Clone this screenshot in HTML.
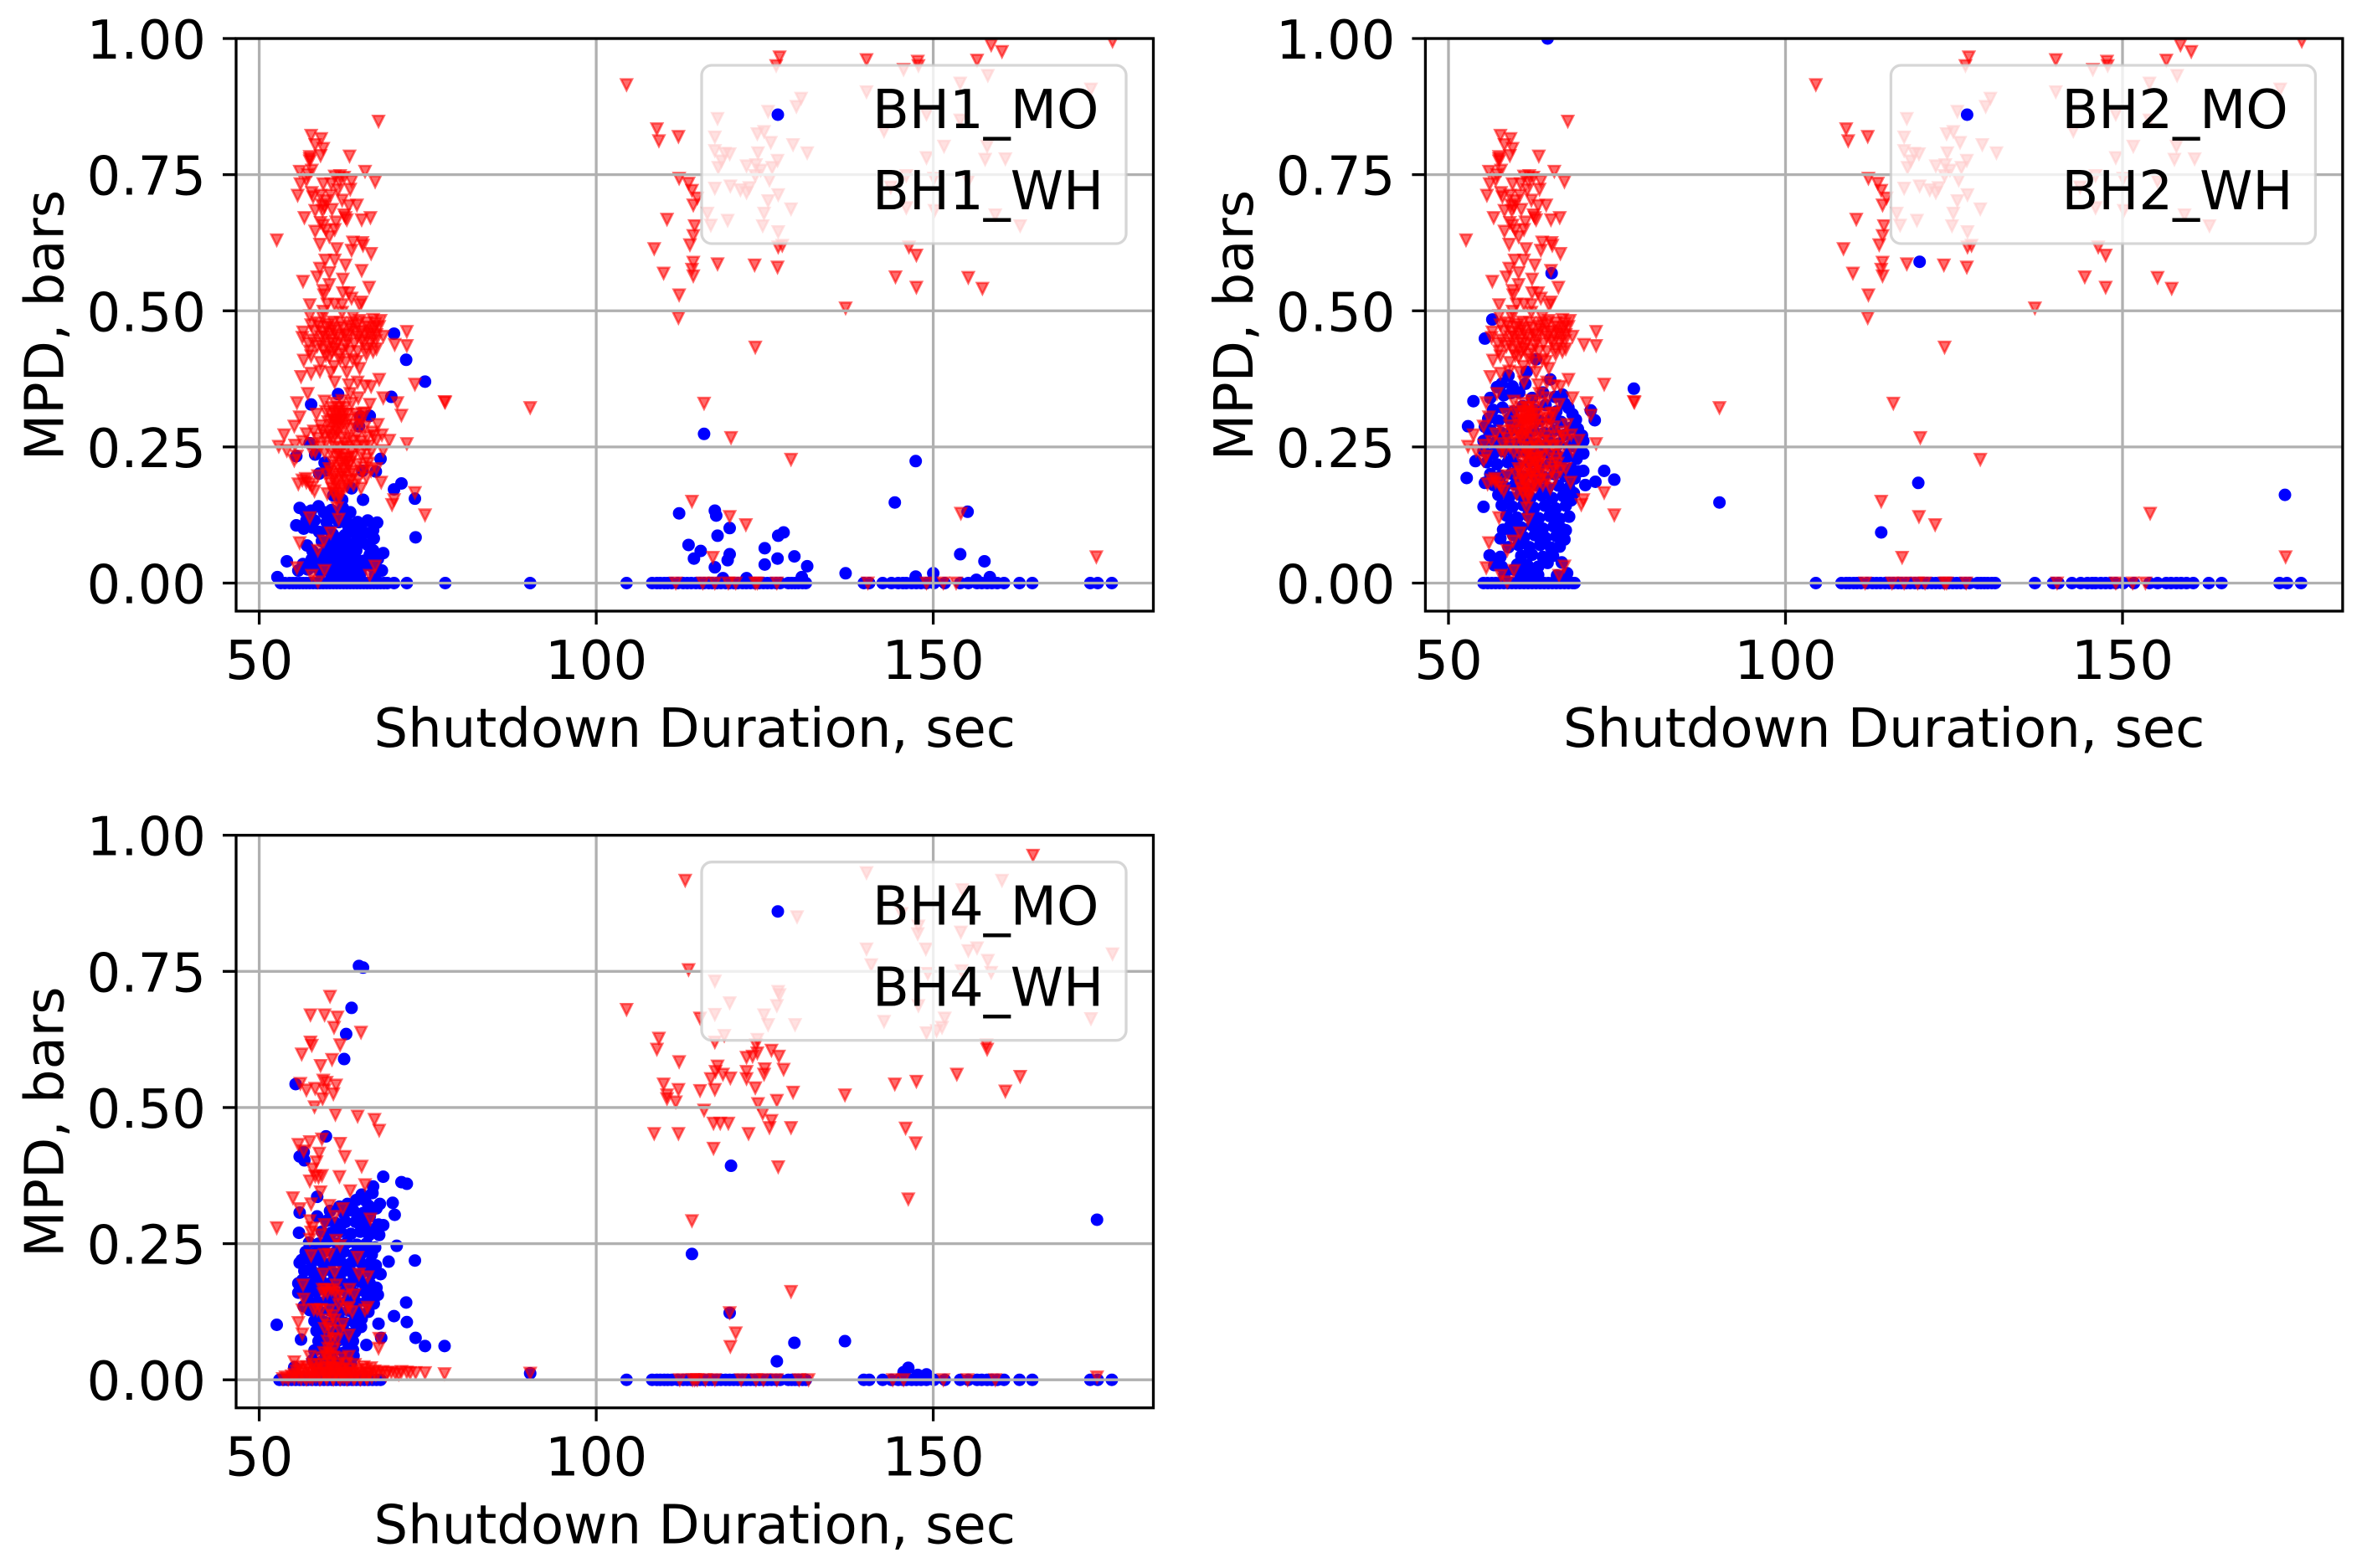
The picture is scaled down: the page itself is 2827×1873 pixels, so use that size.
<!DOCTYPE html>
<html lang="en">
<head>
<meta charset="utf-8">
<title>MPD vs Shutdown Duration</title>
<style>
html,body{margin:0;padding:0;background:#fff;}
svg{display:block;}
text{font-family:"DejaVu Sans","Liberation Sans",sans-serif;fill:#000;}
</style>
</head>
<body>
<svg id="figure" xmlns="http://www.w3.org/2000/svg" width="2827" height="1873" viewBox="0 0 2827 1873"></svg>
<script>
/* ---------- tick labels ---------- */
const xTickValues = [50, 100, 150];
const yTickValues = [0, 0.25, 0.5, 0.75, 1];
const yTickLabels = ['0.00', '0.25', '0.50', '0.75', '1.00'];

/* ---------- WH series shared by BH1 and BH2: [duration, mpd] ---------- */
const wh12Left = [
[67.7,.848],[57.7,.822],[59.2,.816],[58.3,.805],[59.5,.798],[59.1,.785],[57.5,.783],[57.5,.779],[57.5,.775],[63.4,.784],
[56,.756],[57.8,.758],[57.2,.75],[65.7,.756],[62,.748],[61.2,.747],[62.6,.745],[56.1,.733],[57,.74],[59.5,.733],
[60.7,.733],[61.9,.737],[63.7,.738],[67.2,.737],[61.7,.722],[63.5,.723],[55.7,.712],[57.8,.717],[58,.709],[59.1,.712],
[60.6,.712],[59.9,.702],[62.3,.703],[64.5,.694],[63.3,.693],[58.3,.684],[59.4,.684],[60.8,.686],[59.7,.691],[59.3,.694],
[56.7,.671],[62.8,.671],[63,.667],[62.6,.676],[65.2,.667],[66.5,.671],[59.1,.662],[59.5,.657],[61.4,.663],[58.3,.646],
[59.9,.648],[61.2,.649],[60.4,.636],[52.6,.63],[59,.622],[63.9,.626],[65.3,.625],[65.4,.62],[61.5,.614],[63.7,.611],
[66.6,.605],[59.8,.593],[61.2,.593],[59,.578],[62.8,.584],[65.2,.574],[60.4,.57],[58.6,.562],[62.4,.558],[56.5,.554],
[60.4,.548],[66.3,.543],[59.5,.537],[59.6,.529],[62.4,.533],[63.3,.533],[63.7,.523],[57.5,.511],[60.1,.512],[61.2,.512],
[62.3,.511],[65.2,.516],[64.9,.511],[59.5,.499],[62.3,.497],[57.5,.491],[59.4,.488],[63.9,.489],[66.9,.484],[68,.482],
[57.7,.474],[61,.479],[64.5,.474],[56.5,.461],[56.4,.451],[59.4,.461],[61.2,.463],[62.4,.469],[64.3,.461],[66.8,.463],
[67.8,.471],[68.4,.453],[71.9,.462],[70.1,.438],[71.9,.436],[57.9,.446],[59.1,.44],[60.6,.446],[62,.451],[64.1,.44],
[65.7,.456],[66.8,.451],[67.4,.43],[65.9,.43],[57.5,.426],[59.5,.428],[61.2,.43],[62.4,.428],[60,.47],[63.1,.455],
[58.6,.478],[64.9,.482],[66,.47],[67.3,.445],[60.9,.44],[63.3,.472],[61.9,.42],[64.6,.425],
[56.6,.409],[57.7,.417],[59.1,.405],[60.4,.415],[62,.41],[64.5,.407],[64.9,.394],[65.9,.42],[56.2,.379],[57.7,.385],
[59,.389],[60.6,.387],[63,.387],[67.8,.374],[61.2,.369],[63.3,.364],[64.6,.369],[65.7,.362],[66.6,.361],[63.5,.348],
[57.2,.348],[55.6,.331],[64.7,.34],[68.4,.34],[70.5,.331],[73.1,.365],[77.5,.333],[71.1,.308],[59.7,.334],[61.6,.315],
[62,.315],[59.9,.315],[66.4,.328],[65.7,.312],[63.7,.33],[58.5,.31],[56,.305],[55.2,.288],[53.7,.272],[61.2,.299],
[61.8,.292],[62.8,.289],[59.1,.289],[58.1,.279],[57,.274],[67.6,.291],[59.7,.271],[61.6,.276],[64.9,.291],[66.8,.277],
[68.2,.272],[69.3,.262],[67.4,.262],[63.9,.261],[65.1,.26],[62.6,.257],[59.9,.258],[56.4,.26],[55.3,.253],[52.9,.251],
[71.9,.256],[54.1,.243],[55.2,.225],[55.6,.233],[58.3,.241],[60.6,.241],[63.7,.243],[66.6,.241],[68.4,.243],[62.4,.228],
[63.3,.23],[65.9,.228],[67.4,.21],[60.4,.21],[62.4,.21],[63.3,.215],[65.3,.205],[58.7,.197],[61.2,.2],[62.6,.194],
[64,.2],[65.9,.194],[56.4,.189],[55.8,.182],[57.5,.182],[58.2,.169],[68.1,.185],[60.8,.174],[62.4,.174],[65.1,.174],
[60.1,.164],[62,.159],[73.1,.166],[70,.153],[69.7,.144],[61.5,.153],[61.6,.138],[57.5,.12],[61.8,.117],[74.6,.125],
[60.6,.092],[59.6,.077],[56,.074],[58.7,.06],[55.6,.028],[59.7,.023],[67.2,.031],[57.8,.014],[66.4,.014],[58.7,.002],
[77.6,.332],[90.2,.322],[60.9,.3],[61.3,.285],[60.3,.278],[62.1,.3],[61,.265],[62.9,.222],[61.7,.238],[62.3,.2],
[61.4,.187],[60.7,.205],[63.6,.188]
];
const wh12Dense = [
[58.2,.462],[58.9,.471],[59.8,.452],[60.4,.458],[60.9,.468],[61.6,.44],[62.7,.457],[63.1,.446],[63.7,.466],[64.6,.452],
[65.1,.462],[65.6,.442],[66.2,.459],[66.5,.44],[67.1,.468],[67.4,.456],[60.2,.433],[60.8,.424],[61.5,.455],[62.9,.436],
[63.4,.425],[58.6,.435],[59.2,.452],[57.3,.44],[65.2,.446],[66.9,.425],[59.9,.418],[63.9,.41],[62.8,.405],[61.1,.398],
[60.3,.475],[62.1,.478],[63.9,.478],[65.9,.478],[67.3,.477],[60.8,.322],[61.3,.33],[61.9,.322],[62.3,.335],[62.7,.322],
[63.1,.31],[60.6,.31],[61.2,.312],[61.9,.305],[62.3,.298],[62.6,.31],[63.3,.3],[64.3,.31],[64.9,.303],[65.3,.312],
[60.2,.296],[60.8,.29],[61.4,.295],[62.2,.287],[63.4,.283],[64.2,.29],[65.7,.287],[59.4,.28],[58.7,.266],[60.6,.268],
[61.2,.272],[62.3,.268],[63.2,.265],[64.5,.27],[66,.268],[67,.27],[58,.256],[59.1,.25],[61.2,.25],[62,.248],
[63,.25],[64.4,.252],[65.6,.25],[66.3,.252],[57.8,.242],[59.7,.24],[61.4,.232],[62,.238],[62.8,.228],[63.9,.232],
[65.1,.236],[66.2,.22],[60.9,.222],[61.6,.215],[62.1,.22],[62.7,.206],[63.5,.222],[64.6,.218],[65.6,.212],[66.6,.206],
[60,.2],[61,.19],[61.9,.195],[62.9,.188],[63.7,.205],[64.7,.19],[61.5,.178],[62.1,.17],[63,.178],[64,.18],
[57,.185],[56.9,.192],[57.8,.176],[60.5,.183],[61.1,.165],[61.7,.165]
];
const wh12Right = [
[104.5,.915],[112.2,.487],
[109,.834],[109.3,.812],[112.2,.82],[112.3,.743],[113.7,.734],[114.2,.721],[115,.707],[114.4,.694],[110.5,.668],[114.6,.656],
[114.4,.638],[113.9,.621],[108.6,.614],[114.4,.589],[114.2,.576],[114.4,.564],[118,.586],[123.5,.584],[126.9,.58],[110,.569],
[112.3,.529],[127,.713],[127.2,.966],[126.7,.95],[140.1,.961],[147.7,.958],[147.8,.95],[156.5,.96],[158.6,.988],[160.2,.976],
[176.6,.995],[146.4,.617],[147.5,.602],[144.4,.562],[147.5,.543],[155.2,.561],[157.3,.541],[130.4,.89],[129.7,.875],[125.5,.866],
[118,.853],[123.9,.825],[124.9,.829],[117.6,.819],[125.9,.809],[129.2,.805],[131.3,.79],[117.6,.794],[119.1,.789],[119.8,.788],
[124,.79],[126.9,.776],[118.6,.775],[122.3,.766],[123.7,.768],[126.1,.763],[118.1,.763],[124.4,.758],[123.6,.748],[125.7,.74],
[117.6,.725],[119.9,.729],[122.7,.726],[121.4,.722],[122.3,.717],[125.5,.702],[128.9,.687],[116.5,.679],[124.9,.679],[124.7,.656],
[119.5,.666],[117,.657],[127,.645],[127.6,.62],[127,.617],[145.6,.943],[140.1,.902],[154,.918],[158.1,.932],[173.4,.907],
[149,.861],[154,.85],[142.7,.83],[151.6,.802],[149,.781],[158,.802],[157.7,.778],[160.7,.779],[146,.748],[150.1,.743],
[143.7,.727],[155.2,.738],[146,.689],[150.2,.684],[159.2,.676],[162.9,.656],[137,.505],[123.6,.433],[116,.33],[120,.267],
[128.9,.227],[114.2,.15],[119.8,.122],[122.2,.107],[117.3,.047],[154.1,.128],[174.2,.048]
];
const wh12ZeroDurations = [111.8,115.8,117.6,119.6,120.7,123.6,123.9,126.8,140.3,149,151.5,153.4];

/* ---------- MO zero-line durations, right-hand clusters ---------- */
const moZeroRightDurations = [
104.5,108.3,109,109.5,110.1,110.6,111.2,112.1,112.9,113.5,114.1,114.8,115.4,116,116.7,117.2,117.9,118.5,119.2,119.8,
120.4,121,121.7,122.3,122.9,123.5,124.2,124.8,125.4,126,126.7,127.3,128.5,129,129.5,130,130.6,131.1,
139.7,140.5,142.5,143.8,144.8,145.5,146,146.8,147.5,148.2,149,150.1,151.7,154,155.2,156.5,157.2,158,158.7,159.5,160.5,
162.8,164.7,173.3,174.4,176.5
];

/* ---------- BH1_MO ---------- */
const bh1Mo = [
[71.8,.41],[74.6,.37],[70,.458],[69.6,.342],[61.7,.347],[57.7,.328],[66.4,.307],[65,.306],[64.8,.288],[57.5,.257],
[55.5,.233],[58.3,.236],[68,.228],[59.7,.221],[59.9,.207],[58.9,.201],[65.3,.206],[67.3,.205],[71.1,.183],[70,.172],
[63.7,.174],[65.4,.153],[73.1,.155],[62.3,.153],[61,.161],[56,.138],[57.7,.133],[58.8,.141],[60.7,.134],[63.5,.13],
[62.4,.138],[66.1,.115],[67.5,.111],[55.5,.106],[56.6,.1],[57.9,.102],[58.9,.094],[60.4,.097],[61.8,.112],[63.9,.094],
[65.7,.092],[66.9,.097],[73.2,.084],[65,.074],[61.8,.082],[62.4,.066],[61.2,.066],[63.7,.066],[57.1,.069],[57.9,.059],
[59.3,.077],[59.3,.053],[66.9,.06],[68.4,.055],[61.6,.051],[63.3,.051],[64.5,.043],[65.5,.041],[54.1,.04],[56.5,.035],
[59,.038],[55.8,.023],[57.2,.025],[59.1,.02],[60.8,.03],[62,.035],[62.4,.02],[64.1,.02],[65.3,.03],[66.8,.03],
[68.2,.023],[52.7,.011],[61.2,.01],[60.6,.018],[63.3,.01],[61.6,.025],[64.9,.01],[60.9,.09],[62.7,.088],[61.3,.073],
[63,.075],[62.2,.056],[60.5,.055],[64.4,.06],[60.3,.04],[62.8,.042],[63.6,.03],[61,.044],[59.8,.029],[65,.018],
[59.6,.13],[61.2,.125],[62.9,.12],[64.6,.112],[63.2,.105],[60,.112],[58.2,.115],[57,.115],[56.9,.13],[65.1,.104],
[67,.082],[66.4,.052],[67.6,.044],[67.2,.016],[58.3,.03],[57.8,.044],[60,.068],[60.6,.08],[64.6,.084],[66.1,.07],
[116,.274],[147.4,.224],[144.3,.148],[155.1,.131],[112.3,.128],[117.6,.133],[117.8,.124],[119.8,.101],[118,.087],[127,.087],
[127.8,.093],[113.7,.07],[115.5,.059],[114.5,.045],[119.8,.053],[119.5,.042],[125,.064],[125,.034],[126.9,.045],[129.4,.049],
[131.3,.031],[117.6,.029],[137,.018],[130.5,.011],[122.3,.009],[118.8,.009],[154,.053],[157.6,.04],[147.4,.012],[150,.018],
[156.4,.006],[158.4,.011]
];
const bh1MoZeroDurations = [
53.2,53.8,54.5,55,55.5,56,56.5,57,57.5,58,58.5,59,59.5,60,60.5,61,61.5,62,62.5,63,63.5,64,64.5,65,65.5,66,66.5,67,67.5,68,68.5,69,70,71.9,77.6,90.2
];

/* ---------- BH2_MO ---------- */
const bh2Mo = [
[77.5,.357],[53.7,.334],[52.9,.288],[52.7,.193],[54,.224],[55.2,.14],[71.7,.299],[71.1,.317],[74.6,.19],[73.1,.206],
[71.8,.186],[70.3,.18],[70,.206],[70,.238],[70,.261],[69.8,.271],[68.4,.31],[66.9,.346],[65.1,.374],[61.6,.388],
[63,.411],[58.9,.381],[57.9,.366],[59.5,.361],[61.4,.366],[56.2,.34],[55.2,.261],[55.4,.287],[56,.279],[67.4,.097],
[55.4,.184],[56.1,.051],[57.7,.048],[57.9,.03],[56.8,.033],[59.7,.025],[64.7,.037],[66.8,.038],[67.6,.018],[57.7,.082],
[61.2,.018],[62.4,.02],[63.3,.015],[64.7,1],[65.3,.569],[56.5,.484],[55.4,.449],[90.2,.148],
[57.2,.36],[58.2,.345],[59.3,.349],[60.5,.35],[62.4,.34],[64,.35],[65.8,.342],[67.2,.33],[56.6,.318],[58,.322],
[59.6,.315],[61,.325],[62.8,.318],[64.4,.327],[66,.315],[67.8,.322],[68.9,.3],[55.9,.302],[57.4,.298],[59,.302],
[60.4,.296],[62,.304],[63.5,.298],[65.2,.302],[66.7,.296],[68.1,.285],[69.2,.283],[56.3,.28],[57.8,.276],[59.4,.281],
[61,.275],[62.6,.28],[64.2,.276],[65.7,.28],[67.2,.272],[68.6,.262],[55.5,.262],[56.9,.258],[58.5,.262],[60,.256],
[61.7,.262],[63.2,.256],[64.9,.26],[66.4,.256],[67.9,.25],[69.3,.245],[55.2,.243],[56.7,.238],[58.1,.242],[59.7,.236],
[61.2,.242],[62.9,.236],[64.4,.24],[66,.236],[67.6,.232],[69,.228],[55.7,.222],[57.2,.218],[58.8,.222],[60.3,.217],
[62,.222],[63.5,.216],[65.1,.22],[66.7,.216],[68.2,.21],[69.4,.205],[56.2,.2],[57.8,.197],[59.3,.201],[61,.196],
[62.6,.2],[64.1,.195],[65.7,.2],[67.3,.196],[68.7,.192],[56.7,.18],[58.3,.177],[59.9,.181],[61.5,.176],[63.1,.18],
[64.7,.175],[66.3,.179],[67.9,.175],[68.6,.165],[57.4,.162],[59,.158],[60.6,.162],[62.2,.157],[63.8,.161],[65.4,.156],
[67,.16],[68.2,.152],[57.9,.143],[59.5,.14],[61.1,.143],[62.7,.138],[64.3,.142],[65.9,.137],[67.4,.142],[58.6,.124],
[60.2,.12],[61.8,.124],[63.4,.119],[65,.123],[66.5,.118],[67.9,.122],[59.2,.106],[60.8,.102],[62.4,.106],[64,.1],
[65.6,.104],[66.9,.099],[58.1,.098],[59.6,.088],[61.2,.084],[62.8,.088],[64.4,.083],[66,.086],[67.2,.08],[60.4,.07],
[62,.066],[63.6,.07],[65.2,.065],[66.5,.067],[60.8,.05],[62.4,.052],[64,.048],[65.5,.05],[60.2,.034],[61.7,.033],
[63.3,.03],[58.9,.066],[58.3,.016],[60.7,.012],[66.1,.014]
];
const bh2MoZeroDurations = [
55.2,55.8,56.4,57,57.6,58.2,58.8,59.4,60,60.6,61.2,61.8,62.4,63,63.6,64.2,64.8,65.4,66,66.6,67.2,67.8,68.4,68.7,137
];
const bh2MoRight = [[119.9,.59],[119.7,.184],[114.2,.093],[174.1,.162]];

/* ---------- BH4_MO ---------- */
const bh4Mo = [
[55.4,.543],[59.9,.447],[56.6,.418],[56.7,.403],[68.4,.373],[71.1,.363],[71.9,.36],[66.9,.355],[58.6,.336],[65.2,.34],
[66.8,.343],[69.8,.325],[67.9,.323],[67.4,.315],[56,.307],[70.1,.303],[58.6,.3],[68.4,.284],[55.9,.27],[67.8,.266],
[70.4,.246],[67.2,.243],[69.2,.217],[73.1,.219],[56,.215],[55.8,.177],[55.8,.16],[68,.194],[67.4,.169],[67.6,.156],
[71.8,.142],[70,.117],[71.9,.106],[52.6,.101],[67.7,.103],[65.1,.097],[56.6,.135],[56.2,.074],[63.9,.071],[65.9,.064],
[68.1,.077],[73.2,.077],[74.6,.062],[77.5,.062],[63.9,.055],[55.2,.023],[64.8,.76],[65.4,.757],[63.7,.683],[62.9,.635],
[62.6,.589],[56,.41],[64.4,.33],[65.7,.33],[66.2,.32],[63.1,.323],[61.9,.318],[60.5,.31],[62.6,.305],[64,.31],
[65.4,.306],[66.4,.3],[67.7,.285],[60,.292],[61.3,.288],[62.8,.29],[64.3,.29],[65.7,.286],[66.9,.276],[59.3,.272],
[60.7,.27],[62.1,.272],[63.6,.268],[65,.272],[66.3,.266],[57.4,.252],[58.8,.25],[60.2,.254],[61.6,.25],[63,.252],
[64.5,.248],[65.9,.25],[56.9,.235],[58.3,.232],[59.7,.236],[61.1,.232],[62.5,.235],[64,.23],[65.4,.234],[66.7,.23],
[56.3,.22],[57.8,.216],[59.2,.218],[60.6,.214],[62,.218],[63.5,.213],[64.9,.217],[66.3,.213],[67.3,.21],[56.7,.2],
[58.1,.197],[59.5,.2],[61,.196],[62.4,.199],[63.9,.195],[65.3,.198],[66.7,.195],[56.4,.183],[57.8,.18],[59.2,.182],
[60.7,.178],[62.1,.181],[63.6,.177],[65,.18],[66.4,.177],[57,.164],[58.4,.162],[59.9,.165],[61.3,.16],[62.8,.164],
[64.2,.159],[65.7,.162],[66.8,.158],[57.2,.146],[58.7,.143],[60.1,.146],[61.6,.142],[63,.145],[64.5,.141],[65.9,.144],
[67,.14],[57.5,.128],[59,.125],[60.4,.128],[61.9,.124],[63.3,.127],[64.8,.122],[66.2,.125],[58.2,.108],[59.7,.106],
[61.1,.109],[62.6,.105],[64,.107],[65.2,.112],[58.5,.09],[60,.087],[61.4,.09],[62.9,.086],[64.2,.088],[58.8,.071],
[60.3,.07],[61.7,.072],[63.1,.069],[58.2,.054],[59.7,.052],[61.2,.055],[62.6,.05],[64,.044],[57.9,.036],[59.4,.034],
[60.9,.037],[62.4,.033],[63.6,.03],[58.6,.02],[60.1,.018],[61.6,.02],[63,.017],[90.2,.012],
[120,.393],[114.2,.231],[174.3,.294],[119.8,.123],[129.4,.068],[136.9,.071],[126.8,.034],[146.3,.022],[145.6,.014],[147.7,.009],[149,.01]
];
const bh4MoZeroDurations = [
53,53.6,54.2,54.8,55.4,56,56.6,57.2,57.8,58.4,59,59.6,60.2,60.8,61.4,62,62.6,63.2,63.8,64.4,65,65.6,66.2,66.8,67.4,68
];

/* ---------- BH4_WH ---------- */
const bh4Wh = [
[60.5,.704],[57.6,.67],[59.7,.67],[61.6,.666],[61.1,.647],[65.1,.638],[57.6,.62],[57.8,.614],[62,.615],[56.3,.598],
[60.8,.588],[59.1,.577],[56.1,.544],[61.4,.541],[59.5,.55],[60,.546],[57,.532],[58.3,.535],[59.7,.532],[61,.525],
[59.4,.516],[58.2,.501],[61.3,.487],[64.6,.484],[67.1,.478],[67.8,.458],[55.8,.432],[57.5,.437],[59.3,.442],[62,.434],
[56.6,.42],[58.9,.416],[62.7,.41],[58.5,.4],[57.9,.387],[65.2,.392],[57.5,.365],[58.3,.374],[59.3,.375],[61.9,.373],
[58.8,.372],[65.7,.358],[63.5,.347],[59.1,.345],[55,.334],[57.7,.323],[60.4,.32],[62.4,.314],[56,.314],[61.2,.3],
[66.5,.295],[57.5,.292],[52.6,.279],[57.9,.279],[59.7,.285],[57.7,.271],[59.1,.266],[61.4,.256],[57.5,.258],[62,.246],
[57.7,.228],[59.7,.23],[60.4,.23],[64.6,.225],[59.5,.194],[61.2,.197],[64.8,.194],[66.1,.189],[56.5,.174],[59.4,.166],
[61.4,.174],[63.4,.166],[64.1,.156],[56.6,.148],[62.4,.153],[59.5,.158],[60.1,.16],[61.8,.138],[56.4,.128],[58.1,.129],
[59.2,.129],[63.3,.133],[65.7,.128],[66.1,.133],[55.8,.105],[59.7,.11],[61.2,.11],[62.4,.102],[59.7,.094],[56.4,.084],
[63.3,.082],[60.1,.071],[61.6,.074],[67.8,.076],[67.7,.058],[57.5,.043],[59.2,.041],[60.4,.048],[63.3,.043],[55.2,.033],
[60.4,.033],[60.2,.058],[60.5,.022],[55.5,.016],[56.2,.012],[56.9,.018],[57.6,.014],[58.2,.02],[58.9,.012],[59.5,.018],
[60.1,.013],[60.8,.02],[61.4,.012],[62,.017],[62.7,.013],[63.3,.019],[63.9,.012],[64.6,.017],[65.2,.013],[65.8,.019],
[66.4,.012],[67.1,.016],[67.7,.013],[68.3,.015],[69,.013],[69.6,.014],[70.2,.012],[71.1,.015],[71.9,.014],[72.4,.013],
[73.2,.013],[74.6,.013],[77.5,.011],[90.2,.012],[54.8,.007],[55.8,.005],[56.7,.006],[57.5,.004],[58.4,.006],[59.2,.005],
[60,.007],[60.9,.004],[61.7,.006],[62.5,.005],[63.4,.007],[64.2,.004],[65,.006],[65.9,.005],[66.7,.005],[53.5,.002],
[54.3,.001],[57,.001],[59,.001],[61,.001],[63,.001],[65,.001],
[58.6,.128],[59.8,.166],[60.7,.165],[61.2,.16],[62.9,.13],[63.8,.125],[61.7,.155],[60.4,.128],[60.9,.118],[62,.09],
[60.6,.09],[60.3,.1],[60.9,.076],[61.1,.056],[60.1,.044],[61,.042],[59.6,.05],[62.2,.04],[57.9,.028],[59,.028],
[60.7,.03],[61.8,.028],[63,.03],[64.2,.028],[65.5,.024],[66.6,.022],[58.3,.018],[59.6,.022],[61.1,.022],[62.4,.02],
[55.9,.024],[56.3,.02],[57.1,.024],[58,.011],[59.8,.01],[61.1,.009],[62.2,.01],[63,.011],[64.4,.01],[66,.011],
[67.3,.009],[68.8,.008],[70.7,.01],[55.2,.01],[53.9,.005],[55.2,.003],[56.2,.002],[57.9,.002],[60,.002],[62,.001],
[64,.002],[66,.002],
[104.5,.68],
[112.4,0],[114.3,0],[114.6,0],[115,0],[116.2,0],[117.6,0],[121.5,0],[123.7,0],[124.8,0],[126.8,0],[130.1,0],[131.5,0],
[144,0],[145.6,0],[151.5,0],[155.1,0],[159.2,0],[174.3,.005],
[164.8,.963],[113.2,.917],[140.1,.931],[160.2,.917],[154.3,.9],[129.8,.85],[145.3,.856],[147.8,.833],[147.7,.819],[154.1,.822],
[140.1,.791],[148.9,.791],[155.2,.788],[156.5,.793],[176.6,.782],[158.1,.77],[140.8,.762],[154.2,.751],[158.6,.748],[113.7,.753],
[149.2,.746],[117.6,.732],[127,.713],[127.2,.707],[119.8,.692],[126.8,.687],[117.6,.671],[124.9,.67],[147.8,.687],[115.4,.664],
[151.7,.664],[173.4,.663],[142.7,.658],[125.5,.652],[129.5,.652],[151.3,.647],[149,.637],[150.5,.641],[119,.632],[123.9,.625],
[117.6,.62],[109.3,.627],[109,.607],[123.7,.615],[126,.605],[123.9,.6],[122.3,.592],[123.2,.594],[127.1,.594],[157.9,.615],
[158,.607],[112.3,.584],[118,.576],[117.7,.566],[117,.553],[118.8,.561],[119.9,.554],[122.3,.566],[122.3,.553],[125,.571],
[124.9,.561],[127.8,.57],[153.5,.561],[162.9,.557],[144.3,.543],[147.5,.548],[160.7,.53],[110,.543],[112.2,.533],[115.4,.531],
[117.6,.533],[123.6,.536],[129.2,.528],[136.9,.523],[110.5,.523],[110.5,.516],[111.8,.51],[116,.495],[124,.507],[126.8,.513],
[124.7,.489],[117.4,.471],[118.4,.471],[119.6,.471],[126,.476],[125.7,.463],[128.9,.463],[108.6,.452],[112.2,.452],[122.6,.452],
[117.4,.425],[127,.391],[145.9,.462],[147.4,.435],[146.3,.332],[114.2,.292],[128.9,.162],[119.8,.123],[120.7,.086],[119.9,.061]
];

/* ---------- panel labels and layout ---------- */
const panelLabels = ['BH1', 'BH2', 'BH4'];
const xAxisTitle = 'Shutdown Duration, sec';
const yAxisTitle = 'MPD, bars';

const NS = 'http://www.w3.org/2000/svg';
const svg = document.getElementById('figure');
const FONT_SIZE = 64;

function make(parent, tag, attrs, text) {
  const el = document.createElementNS(NS, tag);
  for (const k in attrs) el.setAttribute(k, attrs[k]);
  if (text !== undefined) el.textContent = text;
  parent.appendChild(el);
  return el;
}
function zeros(list) { return list.map(d => [d, 0]); }

const panelSeries = [
  { mo: bh1Mo.concat(zeros(bh1MoZeroDurations), zeros(moZeroRightDurations)),
    wh: wh12Left.concat(wh12Dense, wh12Right, zeros(wh12ZeroDurations)), dx: 0, dy: 0 },
  { mo: bh2Mo.concat(bh2MoRight, zeros(bh2MoZeroDurations), zeros(moZeroRightDurations)),
    wh: wh12Left.concat(wh12Dense, wh12Right, zeros(wh12ZeroDurations)), dx: 1420.4, dy: 0 },
  { mo: bh4Mo.concat(zeros(bh4MoZeroDurations), zeros(moZeroRightDurations)),
    wh: bh4Wh, dx: 0, dy: 951.7 }
];

panelSeries.forEach(function (p, i) {
  const L = 282 + p.dx, R = 1377.5 + p.dx, T = 46 + p.dy, B = 730 + p.dy;
  const xScale = v => 309.6 + p.dx + (v - 50) * 8.05;
  const yScale = v => 696.5 + p.dy - v * 650.5;
  const label = panelLabels[i];

  const g = make(svg, 'g', {});
  
  

  const clip = make(g, 'clipPath', { id: 'clip' + i });
  make(clip, 'rect', { x: L, y: T, width: R - L, height: B - T });

  const marks = make(g, 'g', { 'clip-path': 'url(#clip' + i + ')' });
  
  

  p.mo.forEach(function (d) {
    const c = make(marks, 'circle', { cx: xScale(d[0]), cy: yScale(d[1]), r: 7.5, fill: '#0000ff' });
    
    
  });
  p.wh.forEach(function (d) {
    const x = xScale(d[0]), y = yScale(d[1]);
    const t = make(marks, 'polygon', {
      points: (x - 6.6) + ',' + (y - 6.6) + ' ' + (x + 6.6) + ',' + (y - 6.6) + ' ' + x + ',' + (y + 6.6),
      fill: '#ff0000', 'fill-opacity': 0.58, stroke: '#ff0000', 'stroke-opacity': 0.58, 'stroke-width': 2.6
    });
    
    
  });

  /* grid, drawn above scatter points as in the reference */
  xTickValues.forEach(function (v) {
    const line = make(g, 'line', { x1: xScale(v), x2: xScale(v), y1: T, y2: B, stroke: '#b0b0b0', 'stroke-width': 3.3 });
    
    
    const tick = make(g, 'line', { x1: xScale(v), x2: xScale(v), y1: B, y2: B + 16, stroke: '#000', 'stroke-width': 3.3 });
    
    
    const txt = make(g, 'text', { x: xScale(v), y: 811 + p.dy, 'font-size': FONT_SIZE, 'text-anchor': 'middle' }, String(v));
    
    
  });
  yTickValues.forEach(function (v, k) {
    const line = make(g, 'line', { x1: L, x2: R, y1: yScale(v), y2: yScale(v), stroke: '#b0b0b0', 'stroke-width': 3.3 });
    
    
    const tick = make(g, 'line', { x1: L - 16, x2: L, y1: yScale(v), y2: yScale(v), stroke: '#000', 'stroke-width': 3.3 });
    
    
    const txt = make(g, 'text', { x: L - 36, y: yScale(v) + 24, 'font-size': FONT_SIZE, 'text-anchor': 'end' }, yTickLabels[k]);
    
    
  });

  const frame = make(g, 'rect', { x: L, y: T, width: R - L, height: B - T, fill: 'none', stroke: '#000', 'stroke-width': 3.3 });
  
  

  const xt = make(g, 'text', { x: (L + R) / 2, y: 892 + p.dy, 'font-size': FONT_SIZE, 'text-anchor': 'middle' }, xAxisTitle);
  
  

  const yx = 75.5 + p.dx, yy = 388.5 + p.dy;
  const yt = make(g, 'text', { x: yx, y: yy, 'font-size': FONT_SIZE, 'text-anchor': 'middle', transform: 'rotate(-90 ' + yx + ' ' + yy + ')' }, yAxisTitle);
  
  

  /* legend */
  const leg = make(g, 'g', {});
  
  
  const box = make(leg, 'rect', {
    x: 838 + p.dx, y: 78 + p.dy, width: 507, height: 213, rx: 12, ry: 12,
    fill: '#ffffff', 'fill-opacity': 0.8, stroke: '#cccccc', 'stroke-opacity': 0.8, 'stroke-width': 3.3
  });
  
  
  const dot = make(leg, 'circle', { cx: 929 + p.dx, cy: 137 + p.dy, r: 7.5, fill: '#0000ff' });
  
  
  const t1 = make(leg, 'text', { x: 1042 + p.dx, y: 153 + p.dy, 'font-size': FONT_SIZE }, label + '_MO');
  
  
  const t2 = make(leg, 'text', { x: 1042 + p.dx, y: 250 + p.dy, 'font-size': FONT_SIZE }, label + '_WH');
  
  
});
</script>
</body>
</html>
